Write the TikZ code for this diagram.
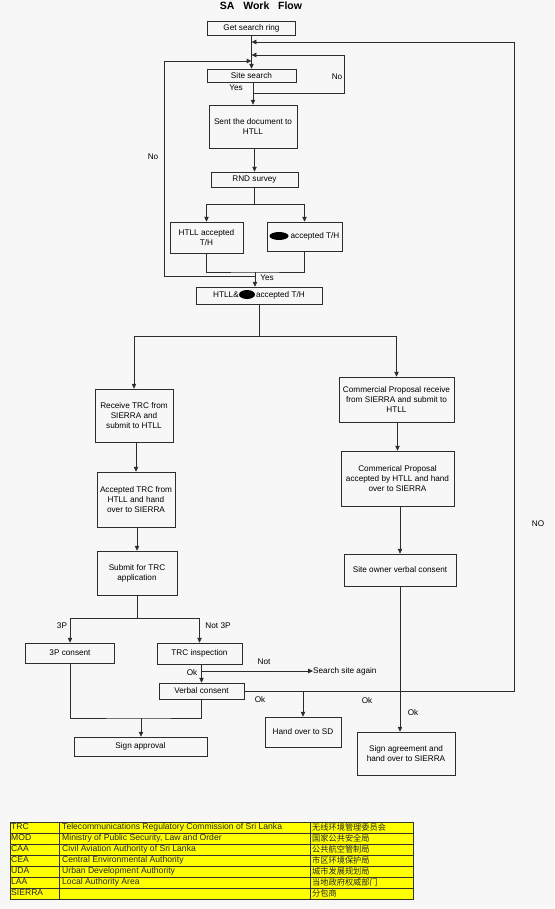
\documentclass[tikz,border=0pt]{standalone}
\usepackage{fontspec}
\setmainfont{Liberation Sans}
\newfontfamily\cjk{Noto Sans CJK SC}
\usetikzlibrary{arrows.meta,shapes.geometric}
\definecolor{bg}{RGB}{247,247,247}
\definecolor{ln}{RGB}{45,45,45}
\definecolor{tyellow}{RGB}{255,255,0}
\begin{document}
\begin{tikzpicture}[x=1pt,y=-1pt,
  box/.style={draw=ln,line width=0.7pt,inner sep=1pt,align=center,font=\fontsize{8.2}{10}\selectfont},
  lbl/.style={inner sep=0pt,font=\fontsize{8.2}{10}\selectfont},
  con/.style={draw=ln,line width=0.6pt},
  arr/.style={con,-{Triangle[length=4.8pt,width=4.4pt]}},
  blob/.style={ellipse,fill=black,inner sep=0pt},
  cell/.style={inner sep=0pt,anchor=base west,font=\fontsize{8.6}{9}\selectfont,text=black!85},
  ccell/.style={cell,font=\cjk\fontsize{8.2}{9}\selectfont}]
\fill[bg] (0,0) rectangle (554,909);
\useasboundingbox (0,0) rectangle (554,909);

% title
\node[inner sep=0pt,font=\bfseries\fontsize{10.5}{12}\selectfont] (title) at (261,6) {SA\ \ \ Work\ \ \ Flow};

% boxes
\node[box,minimum width=88pt,minimum height=14pt] (gsr) at (251.5,28) {Get search ring};
\node[box,minimum width=89pt,minimum height=13pt] (ss) at (251.5,75.5) {Site search};
\node[box,minimum width=88pt,minimum height=43pt] (sent) at (253,126.5) {Sent the document to\\HTLL};
\node[box,minimum width=87pt,minimum height=15pt] (rnd) at (254.5,179.5) {RND survey};
\node[box,minimum width=73pt,minimum height=31pt] (hacc) at (206.5,237.5) {HTLL accepted\\T/H};
\node[box,minimum width=75pt,minimum height=29pt] (racc) at (304.5,236.5) {\hspace*{21pt}accepted T/H};
\node[blob,minimum width=19pt,minimum height=8pt] (blobA) at (279,236) {};
\node[box,minimum width=126pt,minimum height=17pt] (both) at (259,295.5) {HTLL\&\hspace*{15pt} accepted T/H};
\node[blob,minimum width=16pt,minimum height=9pt] (blobB) at (247,294.5) {};

\node[box,minimum width=78pt,minimum height=53pt] (recv) at (134,415.5) {Receive TRC from\\SIERRA and\\submit to HTLL};
\node[box,minimum width=78pt,minimum height=55pt] (acc) at (136,499.5) {Accepted TRC from\\HTLL and hand\\over to SIERRA};
\node[box,minimum width=80pt,minimum height=44pt] (sub) at (137,573) {Submit for TRC\\application};

\node[box,minimum width=115pt,minimum height=45pt] (comm) at (396.5,399.5) {Commercial Proposal receive\\from SIERRA and submit to\\HTLL};
\node[box,minimum width=113pt,minimum height=55pt] (cacc) at (397.5,478.5) {Commerical Proposal\\accepted by HTLL and hand\\over to SIERRA};
\node[box,minimum width=112pt,minimum height=32pt] (own) at (400,570) {Site owner verbal consent};

\node[box,minimum width=89pt,minimum height=20pt] (p3) at (70,653) {3P consent};
\node[box,minimum width=85pt,minimum height=21pt] (trc) at (199.5,653.5) {TRC inspection};
\node[box,minimum width=85pt,minimum height=16pt] (vc) at (201.5,691) {Verbal consent};
\node[lbl,anchor=west] (again) at (313,671) {Search site again};
\node[box,minimum width=76pt,minimum height=30pt] (hsd) at (303,732) {Hand over to SD};
\node[box,minimum width=98pt,minimum height=43pt] (sign) at (406,753.5) {Sign agreement and\\hand over to SIERRA};
\node[box,minimum width=133pt,minimum height=19pt] (sapp) at (140.5,746.5) {Sign approval};

% labels
\node[lbl] (lNo1) at (337,77) {No};
\node[lbl] (lNo2) at (153,157) {No};
\node[lbl] (lYes1) at (236,88) {Yes};
\node[lbl] (lYes2) at (267,278) {Yes};
\node[lbl] (lNO) at (538,524) {NO};
\node[lbl] (l3p) at (62,626) {3P};
\node[lbl] (lnot3p) at (218,626) {Not 3P};
\node[lbl] (lok1) at (192,673) {Ok};
\node[lbl] (lnot) at (264,662) {Not};
\node[lbl] (lok2) at (260,700) {Ok};
\node[lbl] (lok3) at (367,701) {Ok};
\node[lbl] (lok4) at (413,713) {Ok};

% junction coordinates
\coordinate (rnA) at (514,691);
\coordinate (rnB) at (514,42);
\coordinate (snA) at (344,93);
\coordinate (snB) at (344,55);
\coordinate (lnA) at (164,276);
\coordinate (lnB) at (164,61);
\coordinate (fork) at (254.5,204);
\coordinate (join) at (255,272);
\coordinate (split) at (256,336);
\coordinate (split2) at (137,618);
\coordinate (j3) at (141,718);

% top chain
\draw[arr] (ss.north |- gsr.south) -- (ss.north);
\draw[arr] (sent.north |- ss.south) -- (sent.north);
\draw[arr] (rnd.north |- sent.south) -- (rnd.north);
\draw[con] (rnd.south) -- (rnd.south |- fork);
\draw[arr] (rnd.south |- fork) -| (hacc.north);
\draw[arr] (rnd.south |- fork) -| (racc.north);
\draw[con] (hacc.south) |- (join) -| (racc.south);
\draw[arr] (join) -- (join |- both.north);

% loops
\draw[arr] (sent.north |- snA) -- (snA) -- (snB) -- (ss.north |- snB);
\draw[arr] (join |- lnA) -- (lnA) -- (lnB) -- (ss.north |- lnB);
\draw[arr] (vc.east) -- (rnA) -- (rnB) -- (ss.north |- rnB);

% split
\draw[con] (both.south) -- (both.south |- split);
\draw[arr] (both.south |- split) -| (recv.north);
\draw[arr] (both.south |- split) -| (comm.north);

% left branch
\draw[arr] (acc.north |- recv.south) -- (acc.north);
\draw[arr] (sub.north |- acc.south) -- (sub.north);
\draw[con] (sub.south) -- (sub.south |- split2);
\draw[arr] (sub.south |- split2) -| (p3.north);
\draw[arr] (sub.south |- split2) -| (trc.north);
\draw[arr] (vc.north |- trc.south) -- (vc.north);
\draw[arr] (vc.north |- again.west) -- (again.west);
\draw[arr] (vc.east -| hsd.north) -- (hsd.north);
\draw[con] (p3.south) |- (j3) -| (vc.south);
\draw[arr] (j3) -- (j3 |- sapp.north);

% right branch
\draw[arr] (cacc.north |- comm.south) -- (cacc.north);
\draw[arr] (own.north |- cacc.south) -- (own.north);
\draw[arr] (own.south) -- (own.south |- sign.north);

% table
\draw[draw=black!80,fill=tyellow,line width=0.6pt] (10,822) rectangle (413,899);
\foreach \k in {1,...,6} {\draw[draw=black!80,line width=0.5pt] (10,822+11*\k) -- (413,822+11*\k);}
\draw[draw=black!80,line width=0.5pt] (59,822) -- (59,899);
\draw[draw=black!80,line width=0.5pt] (310,822) -- (310,899);

\node[cell] (a1) at (11,829.5) {TRC};
\node[cell] (b1) at (62,829.5) {Telecommunications Regulatory Commission of Sri Lanka};
\node[ccell] (c1) at (312,830.5) {无线环境管理委员会};
\node[cell] (a2) at (11,840.5) {MOD};
\node[cell] (b2) at (62,840.5) {Ministry of Public Security, Law and Order};
\node[ccell] (c2) at (312,841.5) {国家公共安全局};
\node[cell] (a3) at (11,851.5) {CAA};
\node[cell] (b3) at (62,851.5) {Civil Aviation Authority of Sri Lanka};
\node[ccell] (c3) at (312,852.5) {公共航空管制局};
\node[cell] (a4) at (11,862.5) {CEA};
\node[cell] (b4) at (62,862.5) {Central Environmental Authority};
\node[ccell] (c4) at (312,863.5) {市区环境保护局};
\node[cell] (a5) at (11,873.5) {UDA};
\node[cell] (b5) at (62,873.5) {Urban Development Authority};
\node[ccell] (c5) at (312,874.5) {城市发展规划局};
\node[cell] (a6) at (11,884.5) {LAA};
\node[cell] (b6) at (62,884.5) {Local Authority Area};
\node[ccell] (c6) at (312,885.5) {当地政府权威部门};
\node[cell] (a7) at (11,895.5) {SIERRA};
\node[ccell] (c7) at (312,896.5) {分包商};
\end{tikzpicture}
\end{document}
